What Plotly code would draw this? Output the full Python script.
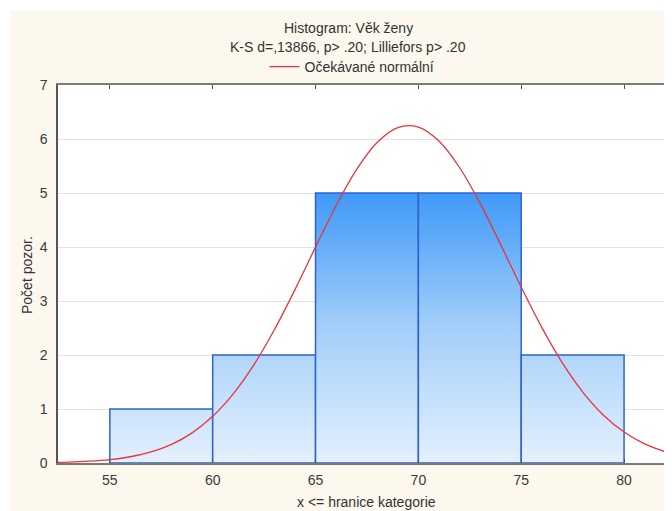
import plotly.graph_objects as go

# ---- data ----
bin_edges = [55, 60, 65, 70, 75, 80]
counts = [1, 2, 5, 5, 2]
curve_x = list(range(52, 84))
curve_y = [0.008, 0.016, 0.033, 0.063, 0.116, 0.204, 0.345, 0.558, 0.864, 1.280,
           1.816, 2.468, 3.210, 3.997, 4.764, 5.436, 5.939, 6.212, 6.220, 5.963,
           5.472, 4.808, 4.044, 3.256, 2.511, 1.853, 1.309, 0.886, 0.573, 0.355,
           0.211, 0.120]
x_ticks = [55, 60, 65, 70, 75, 80]
y_ticks = [0, 1, 2, 3, 4, 5, 6, 7]
title_lines = ["Histogram: Věk ženy", "K-S d=,13866, p> .20; Lilliefors p> .20"]
curve_name = "Očekávané normální"
x_title = "x <= hranice kategorie"
y_title = "Počet pozor."

FONT = "Liberation Sans, Arial, sans-serif"
TXT = "#333333"
OFF = 8  # default page body margin
W, H = 672 - OFF, 511 - OFF
L, R, T, B = 58 - OFF, 0, 85 - OFF, 48
PW, PH = W - L - R, H - T - B


def px_x(p):
    return (p - OFF - L) / PW


def px_y(p):
    return (H - B - (p - OFF)) / PH


fig = go.Figure()

top = max(counts)
for i, c in enumerate(counts):
    l, r = bin_edges[i], bin_edges[i + 1]
    fig.add_trace(go.Scatter(
        x=[l, l, r, r, l], y=[0, c, c, 0, 0],
        mode="lines", fill="toself",
        fillgradient=dict(type="vertical",
                          colorscale=[[0, "#E4F0FE"], [0.5, "#A4CFFA"], [1, "#3F99F7"]],
                          start=0, stop=top),
        line=dict(color="#2E62D2", width=1.5),
        showlegend=False, hoverinfo="skip"))

fig.add_trace(go.Scatter(
    x=curve_x, y=curve_y, mode="lines", name=curve_name,
    line=dict(color="#E8343A", width=1.3, shape="spline"),
    showlegend=True))

annotations = [
    dict(text=title_lines[0], x=px_x(348), y=px_y(28)),
    dict(text=title_lines[1], x=px_x(348), y=px_y(47)),
    dict(text=x_title, x=px_x(366), y=px_y(502)),
    dict(text=y_title, x=px_x(27), y=px_y(275), textangle=-90),
]
for a in annotations:
    a.update(xref="paper", yref="paper", showarrow=False,
             xanchor="center", yanchor="middle",
             font=dict(family=FONT, size=14, color=TXT))

shapes = [
    dict(type="rect", xref="paper", yref="paper", layer="below",
         x0=px_x(OFF), x1=px_x(10), y0=px_y(511), y1=px_y(OFF),
         fillcolor="white", line=dict(width=0)),
    dict(type="rect", xref="paper", yref="paper", layer="below",
         x0=px_x(OFF), x1=1.0, y0=px_y(11), y1=px_y(OFF),
         fillcolor="white", line=dict(width=0)),
]

fig.update_layout(
    width=W, height=H, autosize=False,
    margin=dict(l=L, r=R, t=T, b=B, pad=0),
    paper_bgcolor="#FCF8EE", plot_bgcolor="white",
    font=dict(family=FONT, size=14, color=TXT),
    annotations=annotations, shapes=shapes,
    legend=dict(orientation="h", x=px_x(352), xanchor="center",
                y=px_y(67), yanchor="middle", bgcolor="rgba(0,0,0,0)",
                font=dict(family=FONT, size=14, color=TXT)),
    xaxis=dict(range=[52.48, 82.33], tickvals=x_ticks, showgrid=False,
               zeroline=False, showline=True, linecolor="#7A7A7A",
               linewidth=1.5, mirror="ticks", ticks="inside", ticklen=4,
               tickcolor="#555555", tickfont=dict(size=14, color="#3A3A3A"),
               ticklabelstandoff=3),
    yaxis=dict(range=[0, 7], tickvals=y_ticks, showgrid=True,
               gridcolor="#E2E2E2", gridwidth=1, zeroline=False,
               showline=True, linecolor="#555555", linewidth=1.5,
               ticks="", tickfont=dict(size=14, color="#3A3A3A"),
               ticklabelstandoff=6),
)

fig.write_html("out.html")
